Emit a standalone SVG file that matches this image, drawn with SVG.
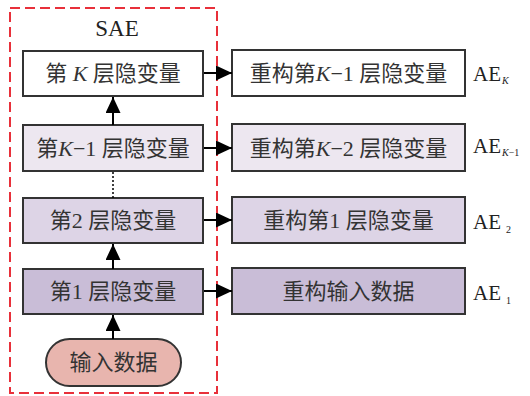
<svg xmlns="http://www.w3.org/2000/svg" width="530" height="396" viewBox="0 0 530 396">
<style>
.box{stroke:#333;stroke-width:2}
.t{font-family:"Noto Sans CJK SC","Liberation Serif",serif;font-size:22px;fill:#333;text-anchor:middle}
.l{font-family:"Liberation Serif",serif;fill:#222}
.k{font-family:"Liberation Serif",serif;font-style:italic}
.c{stroke:#000;stroke-width:2;fill:none}
</style>
<defs>
<marker id="ah" viewBox="0 0 16 15" refX="16" refY="7.5" markerWidth="16" markerHeight="15" markerUnits="userSpaceOnUse" orient="auto">
<path d="M0,0 L16,7.5 L0,15 Z" fill="#000"/>
</marker>
</defs>
<rect x="10" y="8" width="207" height="385" fill="none" stroke="#e8303a" stroke-width="2" stroke-dasharray="10,5"/>
<text class="l" x="117" y="36" font-size="23" text-anchor="middle">SAE</text>
<g id="enc-k"><rect class="box" x="23" y="51" width="180" height="45" fill="#fff"/><text class="t" x="113" y="81">第<tspan class="k"> K </tspan>层隐变量</text></g>
<g id="enc-k1"><rect class="box" x="23" y="125" width="180" height="46" fill="#ede7f0"/><text class="t" x="113" y="156">第<tspan class="k">K</tspan><tspan font-family="Liberation Serif">−1 </tspan>层隐变量</text></g>
<g id="enc-2"><rect class="box" x="23" y="198" width="180" height="45" fill="#ddd4e6"/><text class="t" x="113" y="228">第<tspan font-family="Liberation Serif">2 </tspan>层隐变量</text></g>
<g id="enc-1"><rect class="box" x="23" y="269" width="180" height="45" fill="#c9bdd7"/><text class="t" x="113" y="299">第<tspan font-family="Liberation Serif">1 </tspan>层隐变量</text></g>
<g id="input"><rect class="box" x="46" y="339" width="135" height="47" rx="23.5" fill="#e8b5ae"/><text class="t" x="113.5" y="370">输入数据</text></g>
<g id="dec-k"><rect class="box" x="232" y="50" width="233" height="46" fill="#fff"/><text class="t" x="348.5" y="81">重构第<tspan class="k">K</tspan><tspan font-family="Liberation Serif">−1 </tspan>层隐变量</text></g>
<g id="dec-k1"><rect class="box" x="232" y="124" width="233" height="47" fill="#ede7f0"/><text class="t" x="348.5" y="156">重构第<tspan class="k">K</tspan><tspan font-family="Liberation Serif">−2 </tspan>层隐变量</text></g>
<g id="dec-2"><rect class="box" x="232" y="197" width="233" height="46" fill="#ddd4e6"/><text class="t" x="348.5" y="228">重构第<tspan font-family="Liberation Serif">1 </tspan>层隐变量</text></g>
<g id="dec-1"><rect class="box" x="232" y="268" width="233" height="46" fill="#c9bdd7"/><text class="t" x="348.5" y="299">重构输入数据</text></g>
<g id="labels">
<text class="l" x="473" y="81" font-size="21">AE<tspan class="k" font-size="10" dx="1" dy="3">K</tspan></text>
<text class="l" x="473" y="153" font-size="21">AE<tspan class="k" font-size="10" dx="1" dy="3">K</tspan><tspan font-size="10">−1</tspan></text>
<text class="l" x="473" y="229" font-size="21">AE<tspan font-size="10" dx="5" dy="4">2</tspan></text>
<text class="l" x="473" y="300" font-size="21">AE<tspan font-size="10" dx="5" dy="4">1</tspan></text>
</g>
<g id="connectors">
<line class="c" x1="113" y1="125" x2="113" y2="97" marker-end="url(#ah)"/>
<line x1="113" y1="172" x2="113" y2="198" stroke="#000" stroke-width="1.5" stroke-dasharray="2,2"/>
<line class="c" x1="113" y1="269" x2="113" y2="244" marker-end="url(#ah)"/>
<line class="c" x1="113" y1="339" x2="113" y2="315" marker-end="url(#ah)"/>
<line class="c" x1="204" y1="73" x2="232" y2="73" marker-end="url(#ah)"/>
<line class="c" x1="204" y1="148" x2="232" y2="148" marker-end="url(#ah)"/>
<line class="c" x1="204" y1="220" x2="232" y2="220" marker-end="url(#ah)"/>
<line class="c" x1="204" y1="291" x2="232" y2="291" marker-end="url(#ah)"/>
</g>
</svg>
